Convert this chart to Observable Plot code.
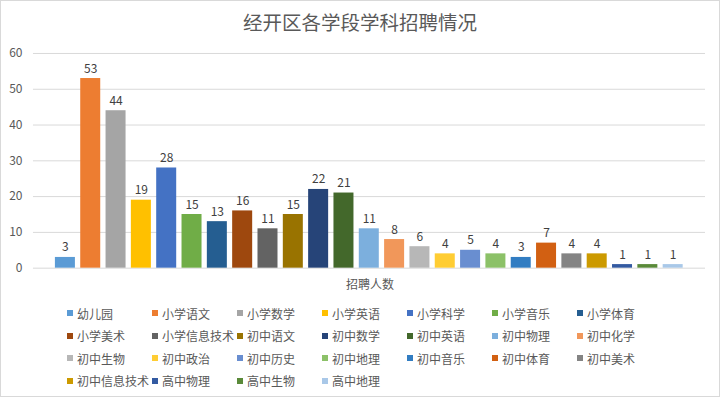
<!DOCTYPE html>
<html>
<head>
<meta charset="utf-8">
<script src="https://cdn.jsdelivr.net/npm/d3@7"></script>
<script src="https://cdn.jsdelivr.net/npm/@observablehq/plot@0.6"></script>
<style>
  html, body { margin: 0; padding: 0; background: #fff; }
  #wrap { position: relative; width: 718px; height: 395px; border: 1px solid #d9d9d9; overflow: hidden; font-family: "Noto Sans CJK SC", sans-serif; color: #595959; }
  #title { position: absolute; top: 6px; left: 0; width: 718px; text-align: center; font-size: 19.5px; line-height: 30px; color: #595959; }
  #plot { position: absolute; top: 39px; left: -1px; }
  #xlabel { position: absolute; top: 274px; left: 0; width: 738px; text-align: center; font-size: 12px; line-height: 18px; }
  #legend { position: absolute; top: 301px; left: 66px; display: grid; grid-template-columns: repeat(7, 85px); grid-auto-rows: 22.5px; font-size: 12px; }
  .item { display: flex; align-items: center; white-space: nowrap; }
  .sw { width: 6px; height: 6px; margin-right: 4px; flex: none; }
</style>
</head>
<body>
<div id="wrap">
  <div id="title"></div>
  <div id="plot"></div>
  <div id="xlabel"></div>
  <div id="legend"></div>
</div>
<script>
const title = "经开区各学段学科招聘情况";
const axisLabel = "招聘人数";
const categories = ["幼儿园","小学语文","小学数学","小学英语","小学科学","小学音乐","小学体育","小学美术","小学信息技术","初中语文","初中数学","初中英语","初中物理","初中化学","初中生物","初中政治","初中历史","初中地理","初中音乐","初中体育","初中美术","初中信息技术","高中物理","高中生物","高中地理"];
const values = [3,53,44,19,28,15,13,16,11,15,22,21,11,8,6,4,5,4,3,7,4,4,1,1,1];
const colors = ["#5B9BD5","#ED7D31","#A5A5A5","#FFC000","#4472C4","#70AD47","#255E91","#9E480E","#636363","#997300","#264478","#43682B","#7CAFDD","#F1975A","#B7B7B7","#FFCD33","#698ED0","#8CC168","#327DC2","#D26012","#848484","#CC9A00","#335AA1","#5A8A39","#A9C8E8"];
const yTicks = [0,10,20,30,40,50,60];

const data = categories.map((c, i) => ({cat: c, value: values[i], color: colors[i]}));

document.getElementById("title").textContent = title;
document.getElementById("xlabel").textContent = axisLabel;

const chart = Plot.plot({
  width: 720,
  height: 240,
  marginTop: 13,
  marginBottom: 12,
  marginLeft: 33,
  marginRight: 14,
  style: {fontFamily: "'Noto Sans CJK SC', sans-serif", fontSize: "12px", color: "#595959", background: "transparent"},
  x: {type: "band", domain: categories, paddingInner: 0.21, paddingOuter: 0.105, insetLeft: 19.3, insetRight: 19.7, round: false, axis: null},
  y: {domain: [0, 60], axis: null},
  color: {type: "identity"},
  marks: [
    Plot.ruleY(yTicks, {stroke: "#d9d9d9", strokeWidth: 1}),
    Plot.text(yTicks, {x: null, y: d => d, text: d => String(d), frameAnchor: "left", textAnchor: "end", dx: -11, fill: "#595959", fontSize: 12}),
    Plot.barY(data, {x: "cat", y: "value", fill: "color"}),
    Plot.text(data, {x: "cat", y: "value", text: d => String(d.value), lineAnchor: "bottom", dy: -6, fill: "#404040", fontSize: 12})
  ]
});
document.getElementById("plot").appendChild(chart);

const legend = document.getElementById("legend");
data.forEach(d => {
  const it = document.createElement("div");
  it.className = "item";
  const sw = document.createElement("span");
  sw.className = "sw";
  sw.style.background = d.color;
  const tx = document.createElement("span");
  tx.textContent = d.cat;
  it.appendChild(sw);
  it.appendChild(tx);
  legend.appendChild(it);
});
</script>
</body>
</html>
